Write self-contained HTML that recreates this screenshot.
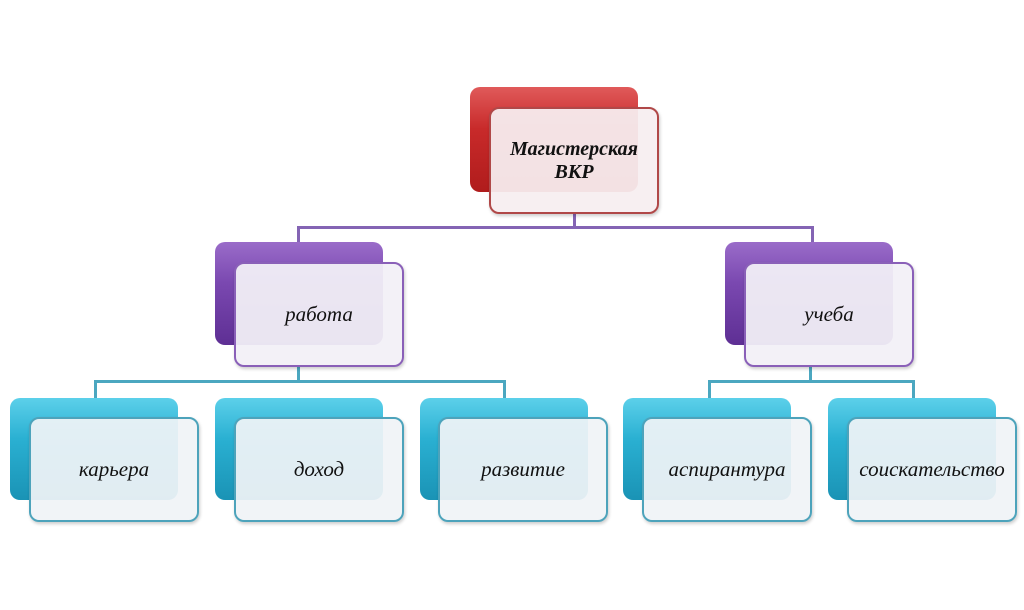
<!DOCTYPE html>
<html><head><meta charset="utf-8"><style>
body{margin:0;width:1024px;height:610px;background:#fff;position:relative;overflow:hidden;font-family:"Liberation Serif","DejaVu Serif",serif}
.b{position:absolute;border-radius:10px}
.f{position:absolute;border-radius:10px;background:rgba(240,243,246,0.93);display:flex;align-items:center;justify-content:center;font-style:italic;font-size:21px;color:#111;text-align:center;box-shadow:1px 2px 3px rgba(0,0,0,0.2)}
.l{position:absolute}
.red{background:linear-gradient(#e05a5a,#c82a2a 40%,#b01c1c)}
.pur{background:linear-gradient(#9a6cc9,#7a48b0 40%,#5e2f94)}
.teal{background:linear-gradient(#5cd0ea,#2ab0d2 40%,#1a93b5)}
.fr{border:2px solid #b04848;background:rgba(246,238,240,0.94)}
.fp{border:2px solid #8a60b8;background:rgba(242,240,246,0.94)}
.ft{border:2px solid #4da3bb}
</style></head><body>
<div class="l" style="left:573px;top:212px;width:3px;height:16px;background:#8464b4"></div>
<div class="l" style="left:297px;top:226px;width:517px;height:3px;background:#8464b4"></div>
<div class="l" style="left:297px;top:226px;width:3px;height:18px;background:#8464b4"></div>
<div class="l" style="left:811px;top:226px;width:3px;height:18px;background:#8464b4"></div>
<div class="l" style="left:297px;top:365px;width:3px;height:17px;background:#4ba7c0"></div>
<div class="l" style="left:94px;top:380px;width:412px;height:3px;background:#4ba7c0"></div>
<div class="l" style="left:94px;top:380px;width:3px;height:20px;background:#4ba7c0"></div>
<div class="l" style="left:503px;top:380px;width:3px;height:20px;background:#4ba7c0"></div>
<div class="l" style="left:809px;top:365px;width:3px;height:17px;background:#4ba7c0"></div>
<div class="l" style="left:708px;top:380px;width:207px;height:3px;background:#4ba7c0"></div>
<div class="l" style="left:708px;top:380px;width:3px;height:20px;background:#4ba7c0"></div>
<div class="l" style="left:912px;top:380px;width:3px;height:20px;background:#4ba7c0"></div>

<div class="b red" style="left:470px;top:87px;width:168px;height:105px"></div>
<div class="f fr" style="left:489px;top:107px;width:166px;height:103px;font-weight:bold;font-size:20px;line-height:23px">Магистерская<br>ВКР</div>

<div class="b pur" style="left:215px;top:242px;width:168px;height:103px"></div>
<div class="f fp" style="left:234px;top:262px;width:166px;height:101px">работа</div>
<div class="b pur" style="left:725px;top:242px;width:168px;height:103px"></div>
<div class="f fp" style="left:744px;top:262px;width:166px;height:101px">учеба</div>

<div class="b teal" style="left:10px;top:398px;width:168px;height:102px"></div>
<div class="f ft" style="left:29px;top:417px;width:166px;height:101px">карьера</div>
<div class="b teal" style="left:215px;top:398px;width:168px;height:102px"></div>
<div class="f ft" style="left:234px;top:417px;width:166px;height:101px">доход</div>
<div class="b teal" style="left:420px;top:398px;width:168px;height:102px"></div>
<div class="f ft" style="left:438px;top:417px;width:166px;height:101px">развитие</div>
<div class="b teal" style="left:623px;top:398px;width:168px;height:102px"></div>
<div class="f ft" style="left:642px;top:417px;width:166px;height:101px">аспирантура</div>
<div class="b teal" style="left:828px;top:398px;width:168px;height:102px"></div>
<div class="f ft" style="left:847px;top:417px;width:166px;height:101px">соискательство</div>
</body></html>
